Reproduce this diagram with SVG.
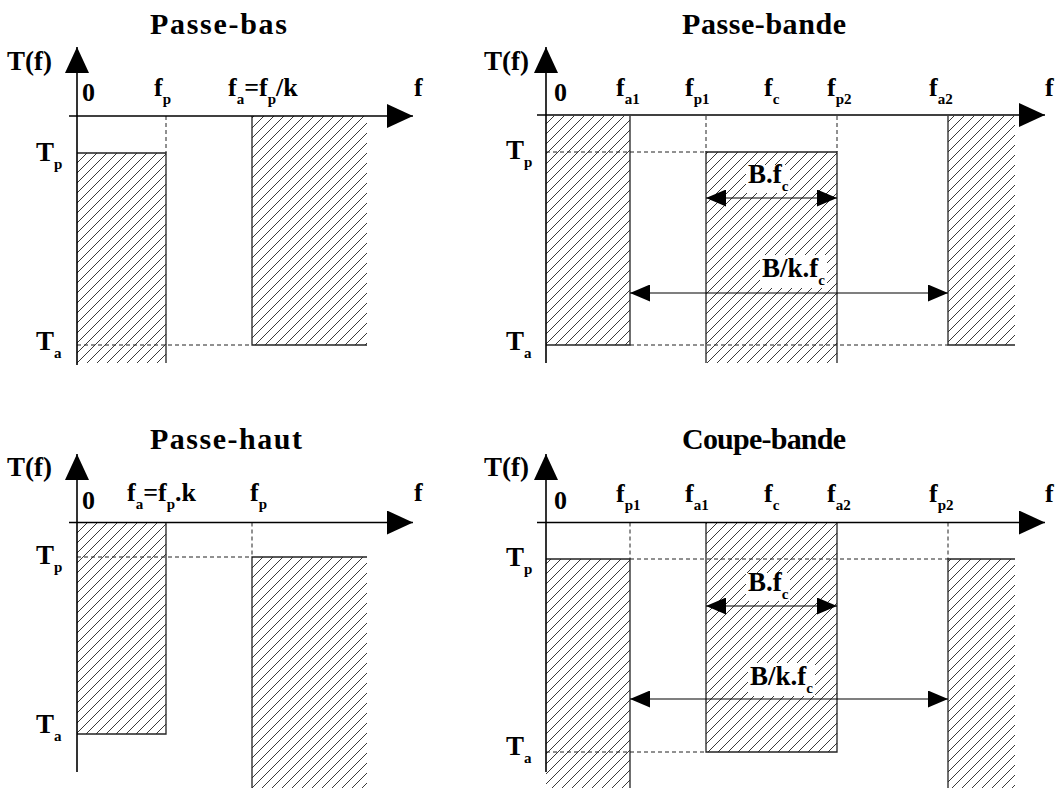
<svg xmlns="http://www.w3.org/2000/svg" width="1061" height="788" viewBox="0 0 1061 788">
<defs>
<style>
.t{font-family:"Liberation Serif","Times New Roman",serif;font-weight:bold;fill:#000}
.title{font-size:30px}
.big{font-size:27px}
.lab{font-size:26px}
.sub{font-size:15px}
.ax{stroke:#000;stroke-width:1.6;fill:none}
.edge{stroke:#222;stroke-width:1.3;fill:none}
.dash{stroke:#222;stroke-width:1;stroke-dasharray:4 3;fill:none}
.dim{stroke:#000;stroke-width:1.2;fill:none;marker-start:url(#dimA);marker-end:url(#dimA)}
.hf{fill:url(#hatch);stroke:none}
.wb{fill:#fff;stroke:none}
</style>
<pattern id="hatch" patternUnits="userSpaceOnUse" width="10" height="10">
<path d="M-1,11 L11,-1 M-1,1 L1,-1 M9,11 L11,9" stroke="#222" stroke-width="0.9"/>
</pattern>
<marker id="axA" markerUnits="userSpaceOnUse" markerWidth="27" markerHeight="24" refX="26" refY="12" orient="auto" viewBox="0 0 27 24">
<path d="M0,0 L26,12 L0,24 z" fill="#000"/>
</marker>
<marker id="dimA" markerUnits="userSpaceOnUse" markerWidth="21" markerHeight="17" refX="20" refY="8.5" orient="auto-start-reverse" viewBox="0 0 21 17">
<path d="M0,0 L20,8.5 L0,17 z" fill="#000"/>
</marker>
</defs>
<rect width="1061" height="788" fill="#fff"/>

<!-- Passe-bas -->
<g id="passe-bas">
<rect class="hf" x="77" y="153" width="89" height="210"/>
<rect class="hf" x="252" y="116" width="115" height="229"/>
<path class="edge" d="M77,153 H166 V363"/>
<path class="edge" d="M252,116 V345 H367"/>
<path class="dash" d="M166,116 V153 M77,345 H252"/>
<path class="ax" d="M77,365 V47" marker-end="url(#axA)"/>
<path class="ax" d="M69,116 H413" marker-end="url(#axA)"/>
<text class="t title" x="150" y="34" textLength="137">Passe-bas</text>
<text class="t big" x="7" y="70">T(f)</text>
<text class="t lab" x="82" y="101">0</text>
<text class="t lab" x="154" y="96">f<tspan class="sub" dy="8">p</tspan></text>
<text class="t lab" x="228" y="96">f<tspan class="sub" dy="8">a</tspan><tspan dy="-8">=f</tspan><tspan class="sub" dy="8">p</tspan><tspan dy="-8">/k</tspan></text>
<text class="t lab" x="414" y="96">f</text>
<text class="t big" x="36" y="161">T<tspan class="sub" dy="8">p</tspan></text>
<text class="t big" x="36" y="350">T<tspan class="sub" dy="8">a</tspan></text>
</g>

<!-- Passe-bande -->
<g id="passe-bande">
<rect class="hf" x="546" y="116" width="84" height="229"/>
<rect class="hf" x="706" y="152" width="131" height="211"/>
<rect class="hf" x="948" y="116" width="67" height="229"/>
<path class="edge" d="M546,345 H630 V116"/>
<path class="edge" d="M706,363 V152 H837 V363"/>
<path class="edge" d="M948,116 V345 H1015"/>
<path class="dash" d="M546,152 H706 M706,116 V152 M837,116 V152 M630,345 H948"/>
<path class="ax" d="M546,363 V47" marker-end="url(#axA)"/>
<path class="ax" d="M537,115 H1045" marker-end="url(#axA)"/>
<text class="t title" x="682" y="34" textLength="164">Passe-bande</text>
<text class="t big" x="484" y="70">T(f)</text>
<text class="t lab" x="554" y="101">0</text>
<text class="t lab" x="616" y="96">f<tspan class="sub" dy="8">a1</tspan></text>
<text class="t lab" x="685" y="96">f<tspan class="sub" dy="8">p1</tspan></text>
<text class="t lab" x="764" y="96">f<tspan class="sub" dy="8">c</tspan></text>
<text class="t lab" x="827" y="96">f<tspan class="sub" dy="8">p2</tspan></text>
<text class="t lab" x="929" y="96">f<tspan class="sub" dy="8">a2</tspan></text>
<text class="t lab" x="1045" y="96">f</text>
<text class="t big" x="506" y="159">T<tspan class="sub" dy="8">p</tspan></text>
<text class="t big" x="506" y="350">T<tspan class="sub" dy="8">a</tspan></text>
</g>

<!-- Passe-haut -->
<g id="passe-haut">
<rect class="hf" x="77" y="522.5" width="89" height="211.5"/>
<rect class="hf" x="252" y="557" width="115" height="231"/>
<path class="edge" d="M77,734 H166 V522.5"/>
<path class="edge" d="M252,788 V557 H367"/>
<path class="dash" d="M77,557 H252 M252,522.5 V557"/>
<path class="ax" d="M77,772 V454" marker-end="url(#axA)"/>
<path class="ax" d="M69,522.5 H413" marker-end="url(#axA)"/>
<text class="t title" x="150" y="449" textLength="152">Passe-haut</text>
<text class="t big" x="7" y="476">T(f)</text>
<text class="t lab" x="82" y="509">0</text>
<text class="t lab" x="127" y="501">f<tspan class="sub" dy="8">a</tspan><tspan dy="-8">=f</tspan><tspan class="sub" dy="8">p</tspan><tspan dy="-8">.k</tspan></text>
<text class="t lab" x="250" y="501">f<tspan class="sub" dy="8">p</tspan></text>
<text class="t lab" x="414" y="501">f</text>
<text class="t big" x="36" y="564">T<tspan class="sub" dy="8">p</tspan></text>
<text class="t big" x="36" y="733">T<tspan class="sub" dy="8">a</tspan></text>
</g>

<!-- Coupe-bande -->
<g id="coupe-bande">
<rect class="hf" x="546" y="559" width="84" height="229"/>
<rect class="hf" x="706" y="522.5" width="131" height="229.5"/>
<rect class="hf" x="948" y="559" width="67" height="229"/>
<path class="edge" d="M546,559 H630 V788"/>
<path class="edge" d="M706,522.5 V752 H837 V522.5"/>
<path class="edge" d="M948,788 V559 H1015"/>
<path class="dash" d="M630,559 H948 M630,522.5 V559 M948,522.5 V559 M546,752 H706"/>
<path class="ax" d="M546,772 V454" marker-end="url(#axA)"/>
<path class="ax" d="M537,522.5 H1045" marker-end="url(#axA)"/>
<text class="t title" x="682" y="449" textLength="164">Coupe-bande</text>
<text class="t big" x="484" y="476">T(f)</text>
<text class="t lab" x="554" y="509">0</text>
<text class="t lab" x="616" y="502">f<tspan class="sub" dy="8">p1</tspan></text>
<text class="t lab" x="685" y="502">f<tspan class="sub" dy="8">a1</tspan></text>
<text class="t lab" x="764" y="502">f<tspan class="sub" dy="8">c</tspan></text>
<text class="t lab" x="827" y="502">f<tspan class="sub" dy="8">a2</tspan></text>
<text class="t lab" x="929" y="502">f<tspan class="sub" dy="8">p2</tspan></text>
<text class="t lab" x="1045" y="502">f</text>
<text class="t big" x="506" y="566">T<tspan class="sub" dy="8">p</tspan></text>
<text class="t big" x="506" y="755">T<tspan class="sub" dy="8">a</tspan></text>
</g>

<!-- dimension connectors -->
<g id="connectors">
<path class="dim" d="M706,198 H837"/>
<path class="dim" d="M630,293 H948"/>
<path class="dim" d="M706,606 H837"/>
<path class="dim" d="M630,699 H948"/>
</g>

<!-- dimension labels -->
<g id="dim-labels">
<rect class="wb" x="746" y="165" width="44" height="28"/>
<text class="t big" x="748" y="183">B.f<tspan class="sub" dy="8">c</tspan></text>
<rect class="wb" x="760" y="255" width="67" height="33"/>
<text class="t big" x="762" y="277">B/k.f<tspan class="sub" dy="8">c</tspan></text>
<rect class="wb" x="746" y="573" width="44" height="28"/>
<text class="t big" x="748" y="591">B.f<tspan class="sub" dy="8">c</tspan></text>
<rect class="wb" x="748" y="663" width="67" height="33"/>
<text class="t big" x="750" y="685">B/k.f<tspan class="sub" dy="8">c</tspan></text>
</g>
</svg>
